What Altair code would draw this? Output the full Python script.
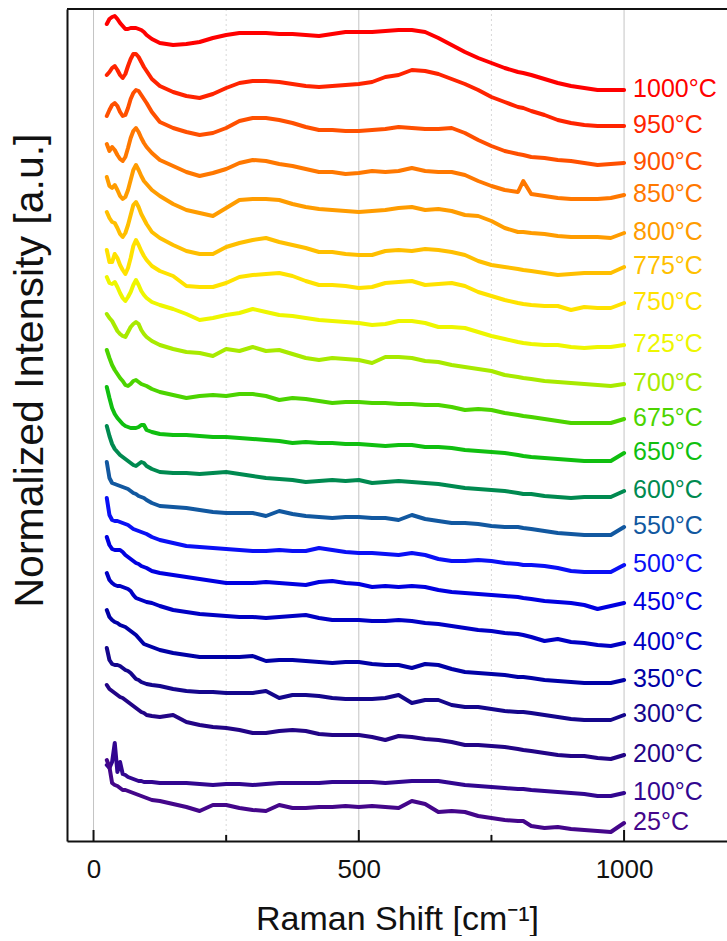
import altair as alt
import pandas as pd

# Raman shift grid (cm^-1)
X = [25, 30, 35, 40, 45, 50, 55, 60, 65, 70, 75, 80, 85, 90, 95, 100, 110, 125,
     150, 175, 200, 225, 250, 275, 300, 325, 350, 375,
     400, 425, 450, 475, 500, 525, 550, 575, 600, 625,
     650, 675, 700, 725, 750, 775, 800, 810,
     825, 850, 875, 900, 925, 950, 975, 1000]

# stacked spectra (vertical offset position, larger = lower on the plot)
S1000 = [24, 19, 17, 16, 19, 23, 26, 29, 29, 28, 28, 28, 29, 30, 32, 35, 39, 43,
         45, 44, 42, 38, 35, 33, 33, 33, 34, 34, 35, 36, 34, 32, 32, 32, 31, 30, 30, 32,
         38, 45, 52, 58, 63, 68, 72, 73, 75, 79, 83, 86, 88, 90, 90, 90]
S950 = [75, 72, 68, 66, 70, 75, 78, 74, 66, 59, 54, 54, 57, 62, 67, 71, 79, 86,
        92, 96, 98, 94, 88, 83, 81, 81, 82, 84, 86, 87, 86, 85, 84, 82, 77, 75, 70, 71,
        74, 79, 84, 90, 97, 102, 107, 108, 111, 115, 120, 123, 125, 126, 126, 126]
S900 = [116, 110, 105, 103, 106, 112, 116, 115, 108, 99, 93, 90, 91, 95, 99, 103, 112, 122,
        128, 132, 135, 133, 128, 121, 118, 118, 120, 123, 127, 130, 130, 131, 131, 130, 129, 127, 128, 129,
        129, 128, 133, 140, 146, 151, 154, 155, 157, 158, 160, 161, 163, 165, 164, 163]
S850 = [144, 151, 147, 150, 155, 159, 161, 157, 148, 138, 131, 128, 132, 138, 143, 147, 153, 160,
        166, 172, 176, 173, 169, 163, 160, 161, 164, 166, 169, 172, 172, 174, 173, 171, 172, 171, 168, 171,
        172, 172, 175, 181, 186, 190, 192, 181, 194, 196, 198, 199, 199, 199, 198, 195]
S800 = [177, 186, 188, 185, 190, 196, 199, 197, 190, 180, 170, 165, 170, 176, 181, 184, 190, 196,
        204, 210, 213, 216, 208, 200, 199, 199, 200, 204, 207, 209, 210, 211, 212, 211, 210, 208, 207, 210,
        209, 211, 215, 216, 221, 228, 232, 232, 233, 234, 236, 237, 237, 237, 238, 233]
S775 = [212, 218, 222, 223, 228, 234, 237, 233, 225, 215, 205, 202, 207, 214, 219, 224, 232, 238,
        245, 251, 254, 254, 247, 243, 240, 238, 242, 245, 248, 252, 252, 254, 255, 255, 251, 250, 251, 249,
        250, 252, 255, 261, 265, 267, 269, 270, 271, 273, 275, 274, 273, 273, 273, 267]
S750 = [250, 262, 262, 254, 258, 265, 270, 274, 268, 258, 246, 240, 245, 251, 256, 260, 266, 271,
        276, 286, 287, 287, 283, 277, 275, 274, 273, 276, 281, 285, 285, 286, 288, 287, 283, 282, 281, 285,
        284, 283, 286, 292, 296, 300, 303, 304, 305, 306, 306, 310, 307, 308, 308, 303]
S725 = [277, 283, 284, 282, 287, 293, 298, 301, 297, 292, 285, 280, 285, 291, 295, 298, 302, 305,
        309, 314, 320, 318, 315, 313, 309, 312, 315, 316, 318, 320, 321, 322, 323, 325, 324, 321, 321, 323,
        327, 327, 328, 332, 336, 339, 342, 343, 344, 345, 345, 347, 348, 347, 347, 345]
S700 = [314, 318, 321, 326, 331, 334, 336, 337, 332, 327, 324, 322, 324, 330, 334, 337, 341, 345,
        349, 352, 353, 356, 349, 351, 347, 351, 350, 354, 358, 360, 358, 359, 360, 363, 357, 357, 358, 361,
        362, 365, 367, 369, 371, 375, 377, 378, 379, 381, 382, 383, 384, 385, 386, 384]
S675 = [350, 358, 365, 370, 374, 378, 381, 385, 386, 384, 381, 380, 382, 384, 385, 386, 389, 392,
        395, 398, 396, 395, 396, 394, 394, 396, 400, 398, 399, 401, 403, 402, 402, 403, 403, 404, 404, 405,
        405, 407, 410, 409, 410, 413, 415, 416, 417, 419, 421, 423, 423, 423, 423, 419]
S650 = [387, 398, 408, 414, 418, 421, 424, 426, 427, 428, 428, 428, 427, 425, 425, 430, 432, 434,
        435, 435, 436, 437, 437, 438, 439, 440, 441, 443, 442, 443, 443, 444, 444, 445, 446, 445, 445, 447,
        447, 448, 450, 451, 452, 453, 455, 456, 457, 458, 459, 460, 461, 461, 461, 453]
S600 = [426, 436, 444, 449, 452, 455, 457, 459, 461, 463, 465, 466, 464, 462, 463, 466, 469, 472,
        473, 473, 474, 473, 472, 474, 476, 478, 479, 480, 482, 481, 480, 481, 480, 483, 482, 481, 482, 483,
        484, 486, 488, 489, 490, 491, 493, 494, 494, 496, 497, 498, 497, 497, 497, 491]
S550 = [462, 478, 483, 484, 485, 486, 487, 488, 489, 491, 493, 494, 496, 497, 498, 500, 503, 506,
        507, 508, 510, 512, 513, 513, 513, 516, 511, 514, 516, 517, 518, 517, 517, 518, 518, 520, 515, 519,
        521, 523, 523, 524, 526, 527, 527, 528, 529, 531, 533, 534, 535, 535, 535, 527]
S500 = [498, 515, 520, 521, 521, 522, 523, 524, 525, 527, 529, 530, 531, 532, 533, 534, 537, 540,
        543, 546, 547, 548, 549, 550, 551, 551, 550, 551, 551, 548, 550, 552, 553, 553, 554, 555, 553, 555,
        559, 561, 561, 560, 561, 563, 564, 565, 565, 566, 568, 571, 572, 572, 572, 565]
S450 = [537, 545, 549, 550, 550, 550, 552, 555, 557, 559, 561, 563, 564, 566, 567, 568, 571, 573,
        575, 577, 579, 581, 583, 583, 583, 582, 583, 584, 585, 582, 581, 583, 584, 587, 586, 587, 586, 587,
        590, 592, 593, 594, 595, 596, 597, 598, 599, 601, 602, 603, 605, 609, 606, 603]
S400 = [573, 580, 583, 585, 586, 586, 587, 588, 589, 591, 595, 598, 599, 600, 601, 602, 603, 606,
        610, 612, 614, 615, 616, 617, 617, 618, 617, 616, 615, 618, 620, 620, 620, 621, 621, 620, 621, 623,
        624, 626, 628, 630, 631, 633, 634, 635, 637, 641, 639, 642, 643, 645, 646, 643]
S350 = [610, 617, 620, 622, 623, 625, 626, 627, 629, 631, 633, 635, 638, 641, 644, 645, 647, 650,
        653, 655, 657, 657, 657, 657, 656, 661, 660, 660, 661, 662, 663, 662, 662, 664, 665, 665, 668, 664,
        665, 669, 672, 673, 674, 675, 677, 677, 678, 680, 681, 682, 683, 683, 683, 680]
S300 = [648, 660, 664, 665, 665, 666, 668, 670, 671, 673, 676, 679, 680, 682, 683, 684, 685, 686,
        689, 691, 692, 692, 693, 693, 693, 691, 698, 695, 695, 696, 698, 699, 699, 699, 698, 695, 703, 700,
        700, 705, 707, 707, 709, 711, 712, 712, 713, 715, 717, 719, 720, 720, 720, 715]
S200 = [685, 689, 691, 693, 695, 697, 698, 700, 702, 704, 706, 708, 710, 712, 713, 715, 716, 717,
        715, 722, 725, 727, 728, 730, 733, 733, 731, 730, 731, 734, 735, 735, 735, 737, 740, 736, 737, 739,
        740, 742, 745, 745, 746, 747, 749, 750, 751, 753, 755, 756, 756, 758, 759, 755]
S100 = [765, 768, 762, 743, 772, 762, 774, 775, 777, 778, 779, 780, 781, 781, 782, 782, 782, 783,
        783, 783, 784, 785, 784, 784, 785, 784, 783, 783, 783, 783, 782, 782, 782, 782, 783, 782, 781, 781,
        781, 783, 785, 786, 787, 788, 789, 789, 790, 791, 792, 793, 794, 796, 796, 793]
S25 = [760, 767, 783, 785, 786, 788, 790, 790, 791, 792, 793, 794, 795, 796, 797, 798, 800, 801,
       804, 807, 811, 805, 805, 808, 810, 811, 805, 808, 808, 807, 807, 806, 807, 806, 807, 808, 801, 804,
       812, 811, 812, 816, 818, 820, 821, 821, 826, 828, 827, 829, 830, 831, 832, 823]

LABELS = ["1000°C", "950°C", "900°C", "850°C", "800°C", "775°C", "750°C", "725°C",
          "700°C", "675°C", "650°C", "600°C", "550°C", "500°C", "450°C", "400°C",
          "350°C", "300°C", "200°C", "100°C", "25°C"]
SERIES = [S1000, S950, S900, S850, S800, S775, S750, S725, S700, S675, S650,
          S600, S550, S500, S450, S400, S350, S300, S200, S100, S25]
COLORS = ["#ff0000", "#ff2400", "#ff5000", "#ff7800", "#ff9c00", "#ffbf00", "#ffe200",
          "#eef600", "#a8ea00", "#4cd400", "#10bf10", "#008a50", "#1258a0", "#0a10f5",
          "#0000e0", "#0000c4", "#0000a6", "#14068c", "#220486", "#320690", "#44068a"]

GRID_MAJOR = [0, 500, 1000]
GRID_MINOR = [250, 750]

rows = []
for lab, ys in zip(LABELS, SERIES):
    assert len(ys) == len(X), lab
    for x, y in zip(X, ys):
        rows.append({"shift": x, "pos": y, "series": lab})
df = pd.DataFrame(rows)
ends = pd.DataFrame({"shift": [X[-1]] * len(LABELS),
                     "pos": [s[-1] for s in SERIES],
                     "series": LABELS})

FONT = "Liberation Sans"
xscale = alt.Scale(domain=[-50, 1194], nice=False, zero=False)
yscale = alt.Scale(domain=[841, 9], nice=False, zero=False)
cscale = alt.Scale(domain=LABELS, range=COLORS)

x_axis = alt.Axis(values=GRID_MAJOR, format="d", ticks=False, grid=False, domain=True,
                  domainColor="#111111", domainWidth=2, labelFont=FONT,
                  labelFontSize=26, labelColor="#111111", labelPadding=15,
                  title="Raman Shift [cm⁻¹]", titleFont=FONT, titleFontSize=34,
                  titleFontWeight="normal", titleColor="#111111",
                  titleY=78, titleBaseline="middle")
y_axis = alt.Axis(labels=False, ticks=False, grid=False, domain=True,
                  domainColor="#111111", domainWidth=2,
                  title="Normalized Intensity [a.u.]", titleFont=FONT,
                  titleFontSize=41, titleFontWeight="normal", titleColor="#111111",
                  titleX=-37, titleY=361, titleBaseline="middle", titleAlign="center")

major_df = pd.DataFrame({"shift": GRID_MAJOR})
minor_df = pd.DataFrame({"shift": GRID_MINOR})

grid_major = alt.Chart(major_df).mark_rule(color="#c4c4c4", strokeWidth=1).encode(
    x=alt.X("shift:Q", scale=xscale, axis=x_axis), y=alt.value(0), y2=alt.value(832))
grid_minor = alt.Chart(minor_df).mark_rule(color="#d8d8d8", strokeWidth=1,
                                           strokeDash=[2, 3]).encode(
    x=alt.X("shift:Q", scale=xscale), y=alt.value(0), y2=alt.value(832))
tick_major = alt.Chart(major_df).mark_rule(color="#111111", strokeWidth=2).encode(
    x=alt.X("shift:Q", scale=xscale), y=alt.value(832), y2=alt.value(821))
tick_minor = alt.Chart(minor_df).mark_rule(color="#111111", strokeWidth=2).encode(
    x=alt.X("shift:Q", scale=xscale), y=alt.value(832), y2=alt.value(826))
top_border = alt.Chart(major_df).mark_rule(color="#111111", strokeWidth=2).encode(
    x=alt.value(0), x2=alt.value(660), y=alt.value(0))

lines = alt.Chart(df).mark_line(strokeWidth=4, strokeJoin="round",
                                strokeCap="round").encode(
    x=alt.X("shift:Q", scale=xscale),
    y=alt.Y("pos:Q", scale=yscale, axis=y_axis),
    color=alt.Color("series:N", scale=cscale, legend=None),
    detail="series:N",
)

labels = alt.Chart(ends).mark_text(align="left", baseline="middle", dx=9, dy=-1,
                                   font=FONT, fontSize=25).encode(
    x=alt.X("shift:Q", scale=xscale),
    y=alt.Y("pos:Q", scale=yscale),
    text="series:N",
    color=alt.Color("series:N", scale=cscale, legend=None),
)

chart = alt.layer(grid_minor, grid_major, tick_minor, tick_major, top_border,
                  lines, labels).properties(
    width=660, height=832,
    autosize=alt.AutoSizeParams(type="none"),
    padding={"left": 67, "top": 9, "right": 0, "bottom": 95},
).configure_view(stroke="transparent")

chart.save("out.html", embed_options={"renderer": "svg", "actions": False})
